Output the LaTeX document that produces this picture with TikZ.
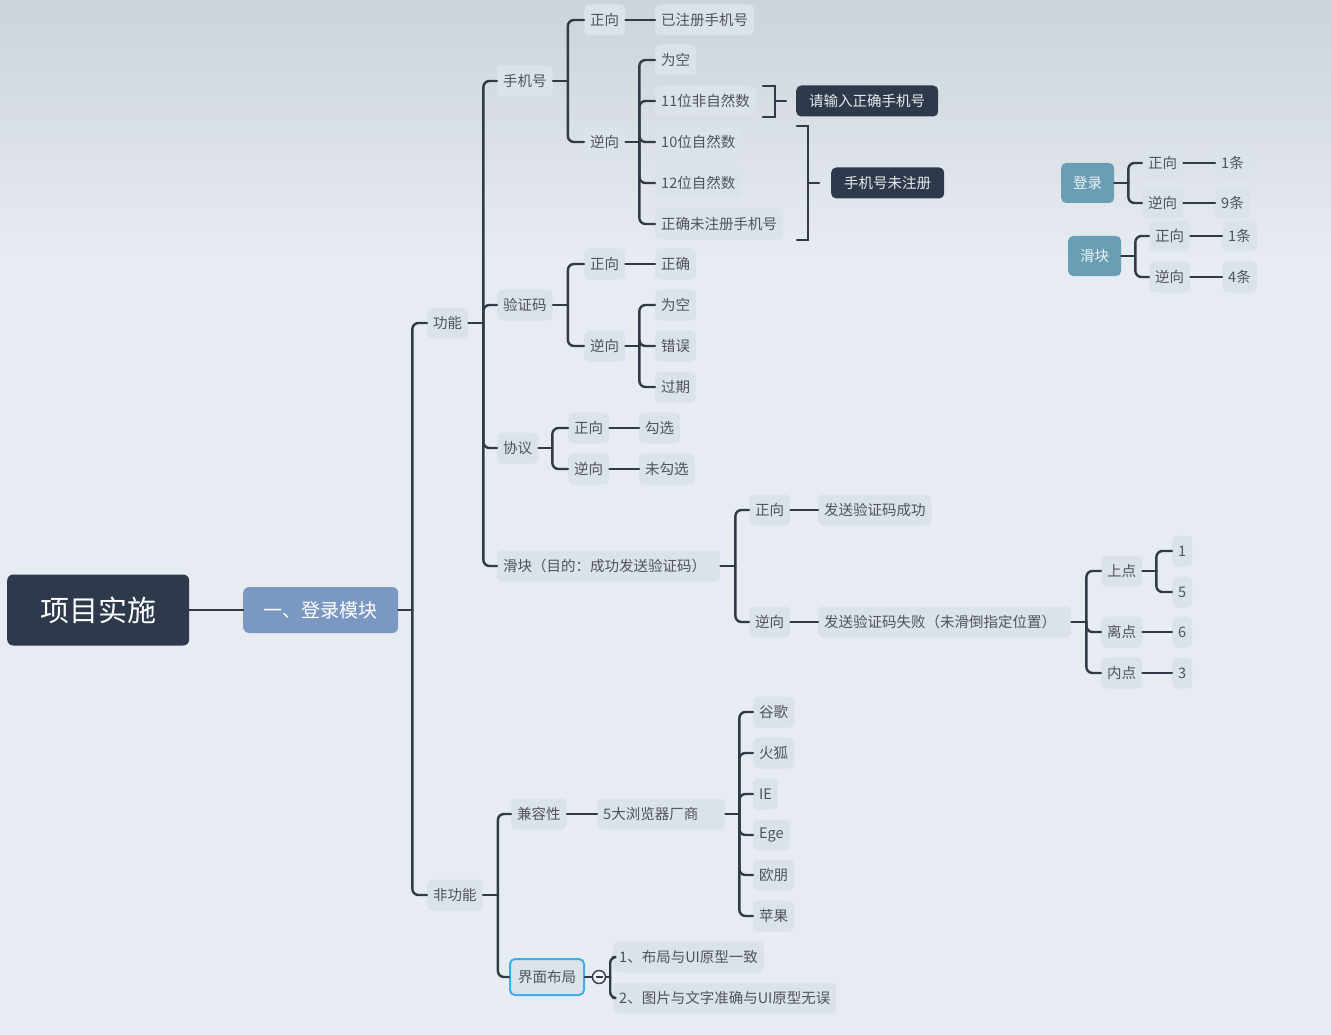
\documentclass[tikz,border=0pt]{standalone}
\usepackage{fontspec}
\setmainfont{Noto Sans CJK SC}
\usetikzlibrary{calc}
\definecolor{bgtop}{HTML}{CCD3D9}
\definecolor{bgmid}{HTML}{E6ECF2}
\definecolor{leaffill}{HTML}{DCE2E9}
\definecolor{leaftext}{HTML}{4F545C}
\definecolor{linecol}{HTML}{333A47}
\definecolor{navy}{HTML}{2E394C}
\definecolor{slate}{HTML}{7A98C2}
\definecolor{teal}{HTML}{699EB4}
\definecolor{selcyan}{HTML}{3AB0E6}

\begin{document}
\begin{tikzpicture}[
    x=1pt, y=-1pt,
    topic/.style={fill=leaffill, rounded corners=5pt, minimum height=31pt, inner xsep=6pt, inner ysep=0pt,
                  text=leaftext, font=\fontsize{14.5}{17}\selectfont, anchor=west},
    dark/.style={topic, fill=navy, text=white!90!navy, inner xsep=13pt},
    side/.style={topic, fill=teal, text=white!88!teal, minimum width=53pt, minimum height=40pt, anchor=west},
    link/.style={draw=linecol, line width=2.4pt, rounded corners=6pt, line cap=round}
]
% background
\useasboundingbox (0,0) rectangle (1331,1035);
\fill[top color=bgtop, bottom color=bgmid] (0,0) rectangle (1331,260);
\fill[bgmid] (0,259) rectangle (1331,1035);

% central topic
\node[fill=navy, rounded corners=6pt, minimum width=182pt, minimum height=71pt, text=white,
      font=\fontsize{29}{34}\selectfont, anchor=west] (root) at (7,610) {项目实施};
\node[fill=slate, rounded corners=6pt, minimum width=155pt, minimum height=46pt, text=white,
      font=\fontsize{19}{22}\selectfont, anchor=west] (login) at (243,610) {一、登录模块};

% main branches
\node[topic] (func) at (427,323) {功能};
\node[topic] (nonf) at (427,895) {非功能};

% phone number
\node[topic] (phone) at (497,81) {手机号};
\node[topic] (phP) at (584,20) {正向};
\node[topic] (phPa) at (655,20) {已注册手机号};
\node[topic] (phN) at (584,142) {逆向};
\node[topic] (phN1) at (655,60) {为空};
\node[topic] (phN2) at (655,101) {11位非自然数};
\node[topic] (phN3) at (655,142) {10位自然数};
\node[topic] (phN4) at (655,183) {12位自然数};
\node[topic] (phN5) at (655,224) {正确未注册手机号};
\node[dark] (tipA) at (796,101) {请输入正确手机号};
\node[dark] (tipB) at (831,183) {手机号未注册};

% verification code
\node[topic] (code) at (497,305) {验证码};
\node[topic] (codeP) at (584,264) {正向};
\node[topic] (codePa) at (655,264) {正确};
\node[topic] (codeN) at (584,346) {逆向};
\node[topic] (codeN1) at (655,305) {为空};
\node[topic] (codeN2) at (655,346) {错误};
\node[topic] (codeN3) at (655,387) {过期};

% agreement
\node[topic] (agree) at (497,448) {协议};
\node[topic] (agP) at (568,428) {正向};
\node[topic] (agPa) at (639,428) {勾选};
\node[topic] (agN) at (568,469) {逆向};
\node[topic] (agNa) at (639,469) {未勾选};

% slider
\node[topic, text width=211pt] (slide) at (497,566) {滑块（目的：成功发送验证码）};
\node[topic] (slP) at (749,510) {正向};
\node[topic] (slPa) at (818,510) {发送验证码成功};
\node[topic] (slN) at (749,622) {逆向};
\node[topic, text width=241pt] (slNa) at (818,622) {发送验证码失败（未滑倒指定位置）};
\node[topic] (upper) at (1101,571) {上点};
\node[topic] (upper1) at (1172,551) {1};
\node[topic] (upper5) at (1172,592) {5};
\node[topic] (offpt) at (1101,632) {离点};
\node[topic] (offpt6) at (1172,632) {6};
\node[topic] (inpt) at (1101,673) {内点};
\node[topic] (inpt3) at (1172,673) {3};

% compatibility
\node[topic] (compat) at (511,814) {兼容性};
\node[topic, text width=116pt] (brw) at (597,814) {5大浏览器厂商};
\node[topic] (brw1) at (753,712) {谷歌};
\node[topic] (brw2) at (753,753) {火狐};
\node[topic] (brw3) at (753,794) {IE};
\node[topic] (brw4) at (753,835) {Ege};
\node[topic] (brw5) at (753,875) {欧朋};
\node[topic] (brw6) at (753,916) {苹果};

% layout
\node[topic, draw=selcyan, line width=2pt, minimum height=36pt, inner xsep=8pt] (layout) at (509,977) {界面布局};
\node[circle, draw=linecol, fill=white!70!bgmid, line width=1.4pt, inner sep=0pt, minimum size=13pt] (fold) at (599,977) {};
\node[topic] (lay1) at (613,957) {1、布局与UI原型一致};
\node[topic] (lay2) at (613,998) {2、图片与文字准确与UI原型无误};

% summary on the right
\node[side] (sLogin) at (1061,183) {登录};
\node[topic] (sLogP) at (1142,163) {正向};
\node[topic] (sLogPa) at (1215,163) {1条};
\node[topic] (sLogN) at (1142,203) {逆向};
\node[topic] (sLogNa) at (1215,203) {9条};
\node[side] (sSlide) at (1068,256) {滑块};
\node[topic] (sSlP) at (1149,236) {正向};
\node[topic] (sSlPa) at (1222,236) {1条};
\node[topic] (sSlN) at (1149,277) {逆向};
\node[topic] (sSlNa) at (1222,277) {4条};

% connectors
\draw[link] (root.east) -- (login.west);
\draw[link] (login.east) -- ++(14,0) coordinate (loginJ);
\draw[link] (loginJ) |- (func.west);
\draw[link] (loginJ) |- (nonf.west);

\draw[link] (func.east) -- ++(15,0) coordinate (funcJ);
\draw[link] (funcJ) |- (phone.west);
\draw[link] (funcJ) |- (code.west);
\draw[link] (funcJ) |- (agree.west);
\draw[link] (funcJ) |- (slide.west);

\draw[link] (phone.east) -- ++(15,0) coordinate (phoneJ);
\draw[link] (phoneJ) |- (phP.west);
\draw[link] (phoneJ) |- (phN.west);
\draw[link] (phP.east) -- (phPa.west);
\draw[link] (phN.east) -- ++(14,0) coordinate (phNJ);
\draw[link] (phNJ) |- (phN1.west);
\draw[link] (phNJ) |- (phN2.west);
\draw[link] (phNJ) |- (phN3.west);
\draw[link] (phNJ) |- (phN4.west);
\draw[link] (phNJ) |- (phN5.west);

\draw[link] (code.east) -- ++(15,0) coordinate (codeJ);
\draw[link] (codeJ) |- (codeP.west);
\draw[link] (codeJ) |- (codeN.west);
\draw[link] (codeP.east) -- (codePa.west);
\draw[link] (codeN.east) -- ++(14,0) coordinate (codeNJ);
\draw[link] (codeNJ) |- (codeN1.west);
\draw[link] (codeNJ) |- (codeN2.west);
\draw[link] (codeNJ) |- (codeN3.west);

\draw[link] (agree.east) -- ++(14,0) coordinate (agreeJ);
\draw[link] (agreeJ) |- (agP.west);
\draw[link] (agreeJ) |- (agN.west);
\draw[link] (agP.east) -- (agPa.west);
\draw[link] (agN.east) -- (agNa.west);

\draw[link] (slide.east) -- ++(15,0) coordinate (slideJ);
\draw[link] (slideJ) |- (slP.west);
\draw[link] (slideJ) |- (slN.west);
\draw[link] (slP.east) -- (slPa.west);
\draw[link] (slN.east) -- (slNa.west);
\draw[link] (slNa.east) -- ++(15,0) coordinate (slNaJ);
\draw[link] (slNaJ) |- (upper.west);
\draw[link] (slNaJ) |- (offpt.west);
\draw[link] (slNaJ) |- (inpt.west);
\draw[link] (upper.east) -- ++(14,0) coordinate (upperJ);
\draw[link] (upperJ) |- (upper1.west);
\draw[link] (upperJ) |- (upper5.west);
\draw[link] (offpt.east) -- (offpt6.west);
\draw[link] (inpt.east) -- (inpt3.west);

\draw[link] (nonf.east) -- ++(15,0) coordinate (nonfJ);
\draw[link] (nonfJ) |- (compat.west);
\draw[link] (nonfJ) |- (layout.west);
\draw[link] (compat.east) -- (brw.west);
\draw[link] (brw.east) -- ++(14,0) coordinate (brwJ);
\foreach \b in {brw1,brw2,brw3,brw4,brw5,brw6}
  \draw[link] (brwJ) |- (\b.west);

\draw[link] (layout.east) -- (fold.west);
\draw[link] (fold.east) -- ++(4,0) coordinate (foldJ);
\draw[link] (foldJ) |- (lay1.west);
\draw[link] (foldJ) |- (lay2.west);
\draw[linecol, line width=1.2pt] ([xshift=-3.5pt]fold.center) -- ([xshift=3.5pt]fold.center);

\draw[link] (sLogin.east) -- ++(14,0) coordinate (sLogJ);
\draw[link] (sLogJ) |- (sLogP.west);
\draw[link] (sLogJ) |- (sLogN.west);
\draw[link] (sLogP.east) -- (sLogPa.west);
\draw[link] (sLogN.east) -- (sLogNa.west);
\draw[link] (sSlide.east) -- ++(14,0) coordinate (sSlJ);
\draw[link] (sSlJ) |- (sSlP.west);
\draw[link] (sSlJ) |- (sSlN.west);
\draw[link] (sSlP.east) -- (sSlPa.west);
\draw[link] (sSlN.east) -- (sSlNa.west);

% summary brackets
\draw[link, rounded corners=0pt] (763,86) -- (775,86) -- (775,117) -- (763,117);
\draw[link] (775,101) -- (786,101);
\draw[link, rounded corners=0pt] (797,126) -- (808,126) -- (808,240) -- (797,240);
\draw[link] (808,183) -- (819,183);
\end{tikzpicture}
\end{document}
